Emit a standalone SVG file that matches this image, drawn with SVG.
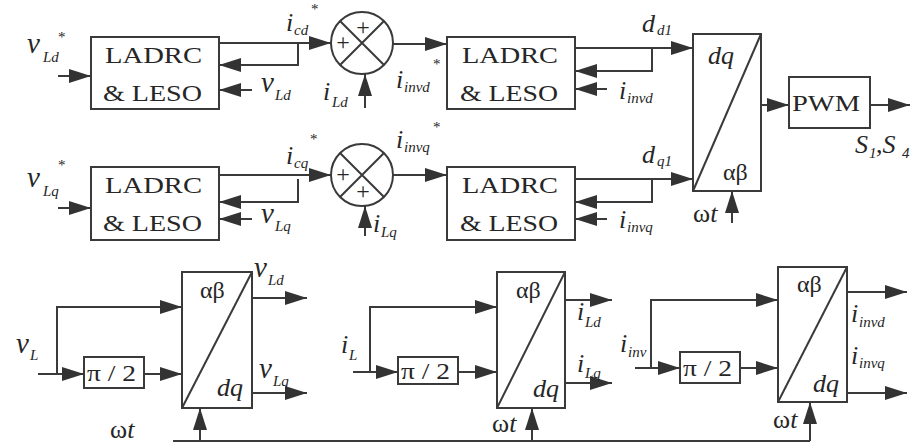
<svg xmlns="http://www.w3.org/2000/svg" width="918" height="445" viewBox="0 0 918 445">
<style>
.bx{fill:#fff;stroke:#3a3a3a;stroke-width:2}
.ln{fill:none;stroke:#3a3a3a;stroke-width:2}
.ar{fill:none;stroke:#3a3a3a;stroke-width:2;marker-end:url(#ah)}
.t{font-family:'Liberation Serif','Tinos','Times New Roman','DejaVu Serif','Noto Serif',serif;font-size:24px;fill:#262626}
.v{font-family:'Liberation Serif','Tinos','Times New Roman','DejaVu Serif','Noto Serif',serif;font-style:italic;font-size:26px;fill:#262626}
.vv{font-size:29px}
.s{font-size:15px}
.st{font-style:normal;font-size:15px}
.up{font-style:normal}
</style>
<defs>
<marker id="ah" viewBox="0 0 22 14" refX="22" refY="7" markerWidth="22" markerHeight="14" markerUnits="userSpaceOnUse" orient="auto">
<path d="M0,0 L22,7 L0,14 z" fill="#333"/>
</marker>
</defs>
<rect width="918" height="445" fill="#fff"/>

<g id="connectors">
<path class="ar" d="M58,76 H91"/>
<path class="ar" d="M219,43 H331"/>
<path class="ar" d="M298,43 V65 H219"/>
<path class="ar" d="M252,90 H219"/>
<path class="ar" d="M365,108 V74"/>
<path class="ar" d="M393,44 H447"/>
<path class="ar" d="M575,48 H693"/>
<path class="ar" d="M652,48 V71 H575"/>
<path class="ar" d="M607,89 H575"/>
<path class="ar" d="M761,105 H789"/>
<path class="ar" d="M870,105 H910"/>

<path class="ar" d="M58,208 H91"/>
<path class="ar" d="M219,175 H331"/>
<path class="ar" d="M298,179 V202 H219"/>
<path class="ar" d="M252,219 H219"/>
<path class="ar" d="M365,236 V206"/>
<path class="ar" d="M393,175 H447"/>
<path class="ar" d="M575,179 H693"/>
<path class="ar" d="M652,179 V202 H575"/>
<path class="ar" d="M607,219 H575"/>
<path class="ar" d="M732,223 V191"/>

<path class="ar" d="M38,374 H84"/>
<path class="ar" d="M57,374 V307 H182"/>
<path class="ar" d="M144,374 H182"/>
<path class="ar" d="M252,298 H307"/>
<path class="ar" d="M252,393 H307"/>

<path class="ar" d="M353,372 H398"/>
<path class="ar" d="M370,372 V307 H497"/>
<path class="ar" d="M458,372 H497"/>
<path class="ar" d="M565,300 H612"/>
<path class="ar" d="M565,383 H612"/>

<path class="ar" d="M635,368 H680"/>
<path class="ar" d="M651,368 V300 H778"/>
<path class="ar" d="M740,368 H778"/>
<path class="ar" d="M847,292 H907"/>
<path class="ar" d="M847,393 H907"/>

<path class="ln" d="M173,441 H810"/>
<path class="ar" d="M200,441 V408"/>
<path class="ar" d="M532,441 V408"/>
<path class="ar" d="M810,441 V402"/>
</g>

<g id="ladrc-vd">
<rect class="bx" x="91" y="37" width="128" height="72"/>
<text class="t" x="105" y="63" textLength="97" lengthAdjust="spacingAndGlyphs">LADRC</text>
<text class="t" x="103" y="101" textLength="99" lengthAdjust="spacingAndGlyphs">&amp; LESO</text>
</g>
<g id="ladrc-vq">
<rect class="bx" x="91" y="167" width="128" height="73"/>
<text class="t" x="105" y="193" textLength="97" lengthAdjust="spacingAndGlyphs">LADRC</text>
<text class="t" x="103" y="231" textLength="99" lengthAdjust="spacingAndGlyphs">&amp; LESO</text>
</g>
<g id="ladrc-id">
<rect class="bx" x="447" y="37" width="128" height="72"/>
<text class="t" x="462" y="63" textLength="96" lengthAdjust="spacingAndGlyphs">LADRC</text>
<text class="t" x="460" y="101" textLength="98" lengthAdjust="spacingAndGlyphs">&amp; LESO</text>
</g>
<g id="ladrc-iq">
<rect class="bx" x="447" y="167" width="128" height="73"/>
<text class="t" x="462" y="193" textLength="96" lengthAdjust="spacingAndGlyphs">LADRC</text>
<text class="t" x="460" y="231" textLength="98" lengthAdjust="spacingAndGlyphs">&amp; LESO</text>
</g>

<g id="sum-d">
<circle class="bx" cx="362" cy="43" r="31"/>
<path class="ln" d="M340,21 L384,65 M384,21 L340,65"/>
<text class="t" x="343" y="50" text-anchor="middle" font-size="22">+</text>
<text class="t" x="363" y="35" text-anchor="middle" font-size="22">+</text>
</g>
<g id="sum-q">
<circle class="bx" cx="362" cy="175" r="31"/>
<path class="ln" d="M340,153 L384,197 M384,153 L340,197"/>
<text class="t" x="343" y="182" text-anchor="middle" font-size="22">+</text>
<text class="t" x="363" y="199" text-anchor="middle" font-size="22">+</text>
</g>

<g id="dq-ab">
<rect class="bx" x="693" y="34" width="68" height="157"/>
<path class="ln" d="M693,191 L761,34"/>
<text class="v" x="708" y="64">dq</text>
<text class="t" x="723" y="180">αβ</text>
</g>
<g id="pwm">
<rect class="bx" x="789" y="77" width="81" height="51"/>
<text class="t" x="792" y="111" textLength="68" lengthAdjust="spacingAndGlyphs">PWM</text>
</g>

<g id="shift-v">
<rect class="bx" x="84" y="357" width="60" height="31"/>
<text class="t" x="87" y="381" textLength="49" lengthAdjust="spacingAndGlyphs">π / 2</text>
</g>
<g id="ab-dq-v">
<rect class="bx" x="182" y="272" width="70" height="136"/>
<path class="ln" d="M182,408 L252,272"/>
<text class="t" x="200" y="298">αβ</text>
<text class="v" x="217" y="396">dq</text>
</g>
<g id="shift-i">
<rect class="bx" x="398" y="357" width="60" height="27"/>
<text class="t" x="401" y="379" textLength="49" lengthAdjust="spacingAndGlyphs">π / 2</text>
</g>
<g id="ab-dq-i">
<rect class="bx" x="497" y="272" width="68" height="136"/>
<path class="ln" d="M497,408 L565,272"/>
<text class="t" x="516" y="298">αβ</text>
<text class="v" x="533" y="397">dq</text>
</g>
<g id="shift-inv">
<rect class="bx" x="680" y="352" width="60" height="31"/>
<text class="t" x="683" y="376" textLength="49" lengthAdjust="spacingAndGlyphs">π / 2</text>
</g>
<g id="ab-dq-inv">
<rect class="bx" x="778" y="267" width="69" height="135"/>
<path class="ln" d="M778,402 L847,267"/>
<text class="t" x="797" y="292">αβ</text>
<text class="v" x="813" y="392">dq</text>
</g>

<g id="labels">
<text class="v vv" x="27" y="53">v<tspan class="s" x="43" y="62">Ld</tspan><tspan class="st" x="58" y="42">*</tspan></text>
<text class="v vv" x="27" y="187">v<tspan class="s" x="43" y="196">Lq</tspan><tspan class="st" x="58" y="170">*</tspan></text>
<text class="v vv" x="261" y="92">v<tspan class="s" x="275" y="100">Ld</tspan></text>
<text class="v vv" x="261" y="223">v<tspan class="s" x="275" y="231">Lq</tspan></text>
<text class="v" x="286" y="31">i<tspan class="s" x="294" y="35">cd</tspan><tspan class="st" x="311" y="14">*</tspan></text>
<text class="v" x="286" y="164">i<tspan class="s" x="294" y="168">cq</tspan><tspan class="st" x="310" y="144">*</tspan></text>
<text class="v" x="323" y="100">i<tspan class="s" x="332" y="107">Ld</tspan></text>
<text class="v" x="373" y="232">i<tspan class="s" x="381" y="237">Lq</tspan></text>
<text class="v" x="396" y="88">i<tspan class="s" x="404" y="92">invd</tspan><tspan class="st" x="433" y="69">*</tspan></text>
<text class="v" x="396" y="148">i<tspan class="s" x="404" y="152">invq</tspan><tspan class="st" x="433" y="132">*</tspan></text>
<text class="v" x="619" y="99">i<tspan class="s" x="627" y="103">invd</tspan></text>
<text class="v" x="619" y="228">i<tspan class="s" x="627" y="232">invq</tspan></text>
<text class="v" x="642" y="32">d<tspan class="s" x="657" y="35">d1</tspan></text>
<text class="v" x="642" y="163">d<tspan class="s" x="657" y="166">q1</tspan></text>
<text class="v" x="855" y="153">S<tspan class="s" x="869" y="158">1</tspan><tspan class="up" x="876" y="153">,</tspan>S<tspan class="s" x="902" y="158">4</tspan></text>
<text class="v" x="693" y="222"><tspan class="up">ω</tspan>t</text>

<text class="v vv" x="16" y="353">v<tspan class="s" x="30" y="360">L</tspan></text>
<text class="v vv" x="254" y="277">v<tspan class="s" x="268" y="285">Ld</tspan></text>
<text class="v vv" x="259" y="378">v<tspan class="s" x="273" y="386">Lq</tspan></text>
<text class="v" x="110" y="438"><tspan class="up">ω</tspan>t</text>
<text class="v" x="341" y="353">i<tspan class="s" x="349" y="360">L</tspan></text>
<text class="v" x="577" y="320">i<tspan class="s" x="585" y="327">Ld</tspan></text>
<text class="v" x="577" y="372">i<tspan class="s" x="585" y="378">Lq</tspan></text>
<text class="v" x="492" y="432"><tspan class="up">ω</tspan>t</text>
<text class="v" x="620" y="352">i<tspan class="s" x="628" y="357">inv</tspan></text>
<text class="v" x="851" y="322">i<tspan class="s" x="859" y="327">invd</tspan></text>
<text class="v" x="851" y="364">i<tspan class="s" x="859" y="368">invq</tspan></text>
<text class="v" x="773" y="428"><tspan class="up">ω</tspan>t</text>
</g>
</svg>
